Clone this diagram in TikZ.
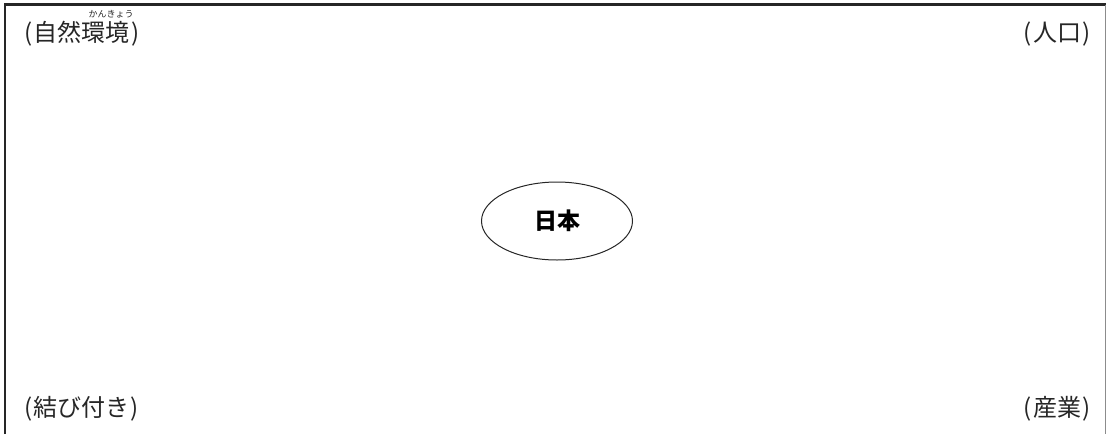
\documentclass[tikz,border=0pt]{standalone}
\usepackage{fontspec}
\newfontfamily\jp{Noto Sans CJK JP}
\usetikzlibrary{shapes.geometric}
\begin{document}
\begin{tikzpicture}[x=1pt,y=-1pt,
  lbl/.style={inner sep=0pt,font=\jp\fontsize{24}{24}\selectfont,text=black!85},
  ruby/.style={inner sep=0pt,font=\jp\fontsize{9}{9}\selectfont,text=black!85},
  frameline/.style={line width=2.5pt,draw=black!85}]
\useasboundingbox (0,0) rectangle (1107,434);
\coordinate (bl) at (5,434);
\coordinate (tl) at (5,4.5);
\coordinate (tr) at (1105.5,4.5);
\coordinate (br) at (1105.5,434);
\draw[frameline] (bl) -- (tl) -- (tr);
\draw[line width=1pt,draw=black!45] (tr) -- (br);
\node[lbl,anchor=base west] (env) at (24,41) {(\hspace{1.5pt}自然環境\hspace{1.5pt})};
\node[ruby,anchor=base] (kana) at (111,17.5) {かんきょう};
\node[lbl,anchor=base east] (pop) at (1091,41) {(\hspace{1.5pt}人口\hspace{1.5pt})};
\node[lbl,anchor=base west] (link) at (24,416) {(\hspace{1.5pt}結び付き\hspace{0.5pt})};
\node[lbl,anchor=base east] (ind) at (1091,416) {(\hspace{1.5pt}産業\hspace{1.5pt})};
\node[ellipse,draw=black!85,line width=1pt,minimum width=151pt,minimum height=78pt,
  font=\jp\bfseries\fontsize{23}{23}\selectfont] (jp) at (557,221) {日本};
\end{tikzpicture}
\end{document}
